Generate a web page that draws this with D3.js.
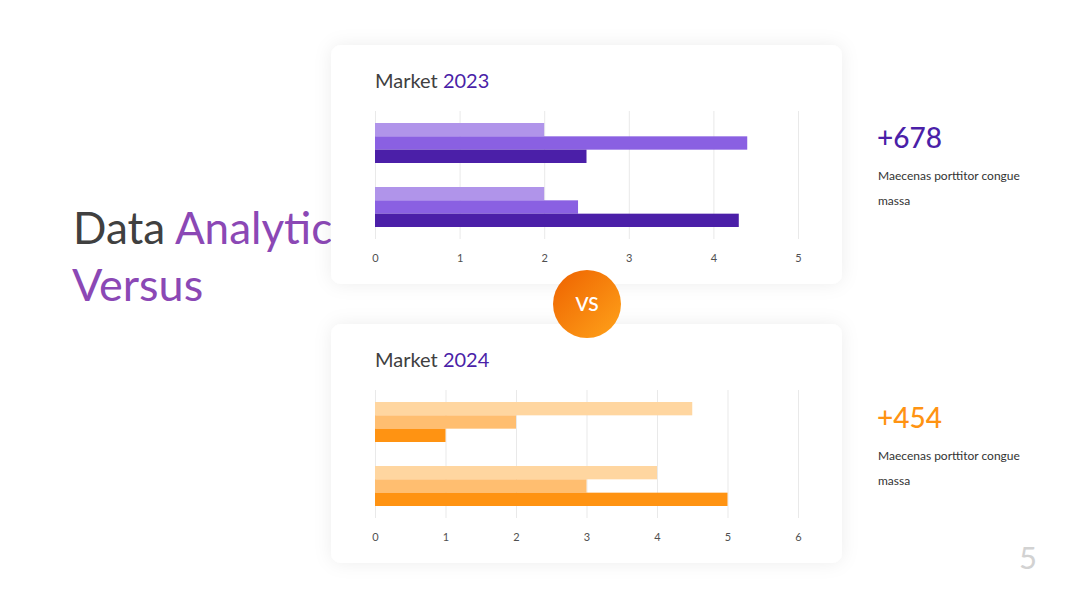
<!DOCTYPE html>
<html>
<head>
<meta charset="utf-8">
<script src="https://cdn.jsdelivr.net/npm/d3@7/dist/d3.min.js"></script>
<style>
  html, body { margin: 0; padding: 0; background: #ffffff; }
  svg { display: block; font-family: Lato, "Open Sans", sans-serif; }
</style>
</head>
<body>
<svg id="chart" width="1080" height="608"></svg>
<script>
// ---------- data ----------
const categories = ["Category 1", "Category 2"];
const seriesNames = ["Series 1", "Series 2", "Series 3"];

const market2023Series1 = [2.0, 2.0];
const market2023Series2 = [4.4, 2.4];
const market2023Series3 = [2.5, 4.3];

const market2024Series1 = [4.5, 4.0];
const market2024Series2 = [2.0, 3.0];
const market2024Series3 = [1.0, 5.0];

const ticks2023 = [0, 1, 2, 3, 4, 5];
const ticks2024 = [0, 1, 2, 3, 4, 5, 6];

const purpleColors = ["#B094EA", "#8A60E2", "#4B1FA8"];
const orangeColors = ["#FFD6A0", "#FFBE70", "#FF9312"];

const headline = ["Data ", "Analytics", "Versus"];
const statValues = ["+678", "+454"];
const statText = ["Maecenas porttitor congue", "massa"];
const pageNumber = "5";

// ---------- drawing ----------
const svg = d3.select("#chart");
const defs = svg.append("defs");

const shadow = defs.append("filter").attr("id", "shadow")
  .attr("x", "-20%").attr("y", "-20%").attr("width", "140%").attr("height", "140%");
shadow.append("feDropShadow").attr("dx", 0).attr("dy", 0)
  .attr("stdDeviation", 9).attr("flood-color", "#000").attr("flood-opacity", 0.07);

const grad = defs.append("linearGradient").attr("id", "vsGrad")
  .attr("x1", "0%").attr("y1", "0%").attr("x2", "100%").attr("y2", "100%");
grad.append("stop").attr("offset", "0%").attr("stop-color", "#EE6200");
grad.append("stop").attr("offset", "100%").attr("stop-color", "#FFA31A");

// Big headline (drawn first, cards overlap it)
const h1 = svg.append("text").attr("x", 73).attr("y", 244)
  .attr("font-size", 44).attr("fill", "#404040");
h1.append("tspan").text(headline[0]);
h1.append("tspan").attr("fill", "#8B48B5").text(headline[1]);
svg.append("text").attr("x", 72).attr("y", 301)
  .attr("font-size", 45).attr("fill", "#8B48B5").text(headline[2]);

function drawCard(cfg) {
  const g = svg.append("g");
  g.append("rect").attr("x", 331).attr("y", cfg.top).attr("width", 511).attr("height", 239)
    .attr("rx", 10).attr("fill", "#fff").attr("filter", "url(#shadow)");

  const t = g.append("text").attr("x", 375).attr("y", cfg.top + 43)
    .attr("font-size", 20).attr("fill", "#404040");
  t.append("tspan").text("Market ");
  t.append("tspan").attr("fill", "#4B1FA8").text(cfg.year);

  const x = d3.scaleLinear().domain([0, d3.max(cfg.ticks)]).range([375, 798]);
  const y0 = d3.scaleBand().domain(categories).range([cfg.top + 66, cfg.top + 194]).padding(0);
  const y1 = d3.scaleBand().domain(seriesNames).range([0, y0.bandwidth()])
    .paddingInner(0).paddingOuter(0.9);

  // gridlines via axis
  const grid = g.append("g").attr("transform", `translate(0,${cfg.top + 194})`)
    .call(d3.axisBottom(x).tickValues(cfg.ticks).tickSize(-(128)).tickFormat(""));
  grid.select(".domain").remove();
  grid.selectAll(".tick line").attr("stroke", "#E9E9E9").attr("stroke-width", 1);

  const rows = categories.map((c, i) => ({
    cat: c,
    vals: seriesNames.map((s, j) => ({ s, v: cfg.series[j][i], j }))
  }));
  g.selectAll("g.cat").data(rows).enter().append("g")
    .attr("transform", d => `translate(0,${y0(d.cat)})`)
    .selectAll("rect").data(d => d.vals).enter().append("rect")
    .attr("x", x(0)).attr("y", d => y1(d.s))
    .attr("width", d => x(d.v) - x(0)).attr("height", y1.bandwidth())
    .attr("fill", d => cfg.colors[d.j]);

  const ax = g.append("g").attr("transform", `translate(0,${cfg.top + 206})`)
    .call(d3.axisBottom(x).tickValues(cfg.ticks).tickSize(0).tickFormat(d3.format("d")));
  ax.select(".domain").remove();
  ax.selectAll("text").attr("font-size", 11).attr("fill", "#505050")
    .attr("font-family", "Lato, sans-serif");
}

drawCard({ top: 45, year: "2023", ticks: ticks2023, colors: purpleColors,
  series: [market2023Series1, market2023Series2, market2023Series3] });
drawCard({ top: 324, year: "2024", ticks: ticks2024, colors: orangeColors,
  series: [market2024Series1, market2024Series2, market2024Series3] });

// VS badge
svg.append("circle").attr("cx", 587).attr("cy", 304).attr("r", 34).attr("fill", "url(#vsGrad)");
svg.append("text").attr("x", 587).attr("y", 311).attr("text-anchor", "middle")
  .attr("font-size", 19).attr("font-weight", 600).attr("fill", "#fff").text("VS");

// Stats
function stat(y, value, color) {
  svg.append("text").attr("x", 877).attr("y", y).attr("font-size", 28)
    .attr("font-weight", 500).attr("fill", color).text(value);
  statText.forEach((s, i) => {
    svg.append("text").attr("x", 878).attr("y", y + 32 + i * 25)
      .attr("font-size", 12).attr("fill", "#333").text(s);
  });
}
stat(148, statValues[0], "#4B1FA8");
stat(428, statValues[1], "#FF9312");

svg.append("text").attr("x", 1028).attr("y", 569).attr("text-anchor", "middle")
  .attr("font-size", 31).attr("fill", "#D2D2D2").text(pageNumber);
</script>
</body>
</html>
